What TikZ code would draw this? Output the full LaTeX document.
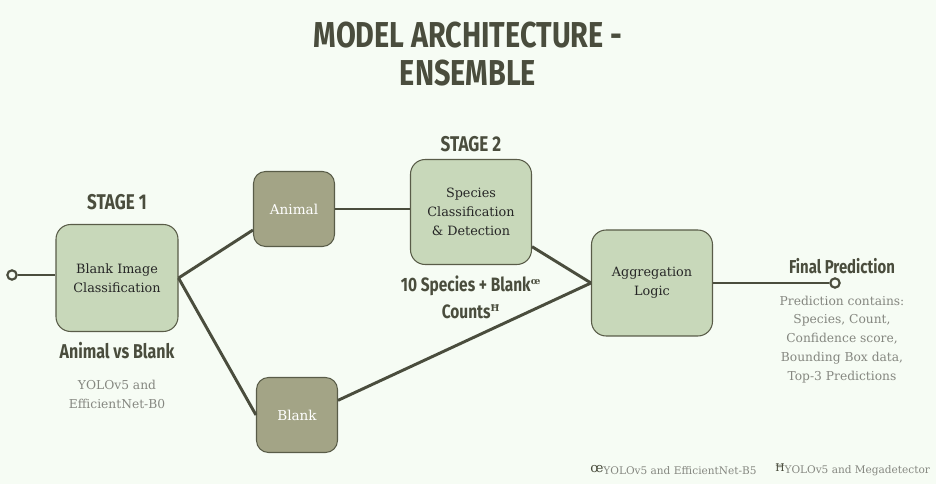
\documentclass[tikz,border=0pt]{standalone}
\usepackage{fontspec}
\setmainfont{DejaVu Serif}
\newfontfamily\headfont[FakeStretch=0.8]{Fira Sans}
\usetikzlibrary{positioning}

\definecolor{bgmint}{HTML}{F6FCF4}
\definecolor{sage}{HTML}{C8D8BA}
\definecolor{olive}{HTML}{A3A486}
\definecolor{edgedark}{HTML}{595C48}
\definecolor{inkdark}{HTML}{4A4D3D}
\definecolor{greytext}{HTML}{858780}

\tikzstyle{line} = [draw=inkdark,line width=2.2pt]
\tikzstyle{stagebox} = [draw=edgedark,line width=0.8pt,fill=sage,rounded corners=11pt,align=center,font=\fontsize{9.6}{14.5}\selectfont,text=black!85]
\tikzstyle{outbox} = [draw=edgedark,line width=0.8pt,fill=olive,rounded corners=9pt,align=center,font=\fontsize{10.2}{12}\selectfont,text=white,minimum width=60.75pt,minimum height=56.25pt]
\tikzstyle{heading} = [font=\headfont\bfseries\fontsize{16}{20}\selectfont,text=inkdark]
\tikzstyle{note} = [font=\fontsize{9.2}{14.2}\selectfont,text=greytext,align=center]
\tikzstyle{footnote} = [font=\fontsize{7.9}{8}\selectfont,text=greytext,anchor=west,inner sep=0pt]
\tikzstyle{endpoint} = [circle,draw=inkdark,line width=1.6pt,fill=bgmint,inner sep=0pt,minimum size=7pt]

\begin{document}
\begin{tikzpicture}[x=0.75pt,y=-0.75pt]
\fill[bgmint] (0,0) rectangle (936,484);
\useasboundingbox (0,0) rectangle (936,484);
\node[font=\headfont\bfseries\fontsize{27}{28.5}\selectfont,text=inkdark,align=center] (title) at (468,54) {MODEL ARCHITECTURE -\\ENSEMBLE};
% stage boxes
\node[stagebox,minimum width=91.5pt,minimum height=80.25pt] (blankimg) at (117,278) {Blank Image\\Classification};
\node[outbox] (animal) at (294,209) {Animal};
\node[outbox] (blankout) at (297,415) {Blank};
\node[stagebox,minimum width=90.75pt,minimum height=78.75pt] (species) at (471,212) {Species\\Classification\\\& Detection};
\node[stagebox,minimum width=90.75pt,minimum height=79.5pt] (aggr) at (652,283) {Aggregation\\Logic};
\node[endpoint] (start) at (12,275) {};
\node[endpoint] (finish) at (835,283) {};
% labels
\node[heading] (stage1) at (117,202) {STAGE 1};
\node[heading] (stage2) at (471,144) {STAGE 2};
\node[heading,font=\headfont\bfseries\fontsize{15}{20}\selectfont] (avb) at (117,351) {Animal vs Blank};
\node[note] (model1) at (117,394) {YOLOv5 and\\EfficientNet-B0};
\node[heading,align=center,font=\headfont\bfseries\fontsize{14.5}{20}\selectfont] (counts) at (471,297) {10 Species + Blank$^{\textrm{\scriptsize œ}}$\\Counts$^{\textrm{\scriptsize Ħ}}$};
\node[heading,font=\headfont\bfseries\fontsize{14}{20}\selectfont] (final) at (842,266) {Final Prediction};
\node[note,anchor=north] (contains) at (842,291) {Prediction contains:\\Species, Count,\\Confidence score,\\Bounding Box data,\\Top-3 Predictions};
\node[footnote] (foot1) at (590,470) {\textcolor{inkdark}{\fontsize{10}{9}\selectfont œ}\raisebox{-1.5pt}{YOLOv5 and EfficientNet-B5}};
\node[footnote] (foot2) at (775,470) {\textcolor{inkdark}{\fontsize{8}{8}\selectfont Ħ}\raisebox{-1.5pt}{YOLOv5 and Megadetector}};
% connectors
\draw[line] (start) -- (blankimg.west |- start);
\draw[line] (blankimg.east) -- ([yshift=-15.75pt]animal.west);
\draw[line] (blankimg.east) -- (blankout.west);
\draw[line] (animal.east) -- (animal.east -| species.west);
\draw[line] ([yshift=-26pt]species.east) -- (aggr.west);
\draw[line] ([yshift=11pt]blankout.east) -- (aggr.west);
\draw[line] (aggr.east) -- (finish);
\end{tikzpicture}
\end{document}
